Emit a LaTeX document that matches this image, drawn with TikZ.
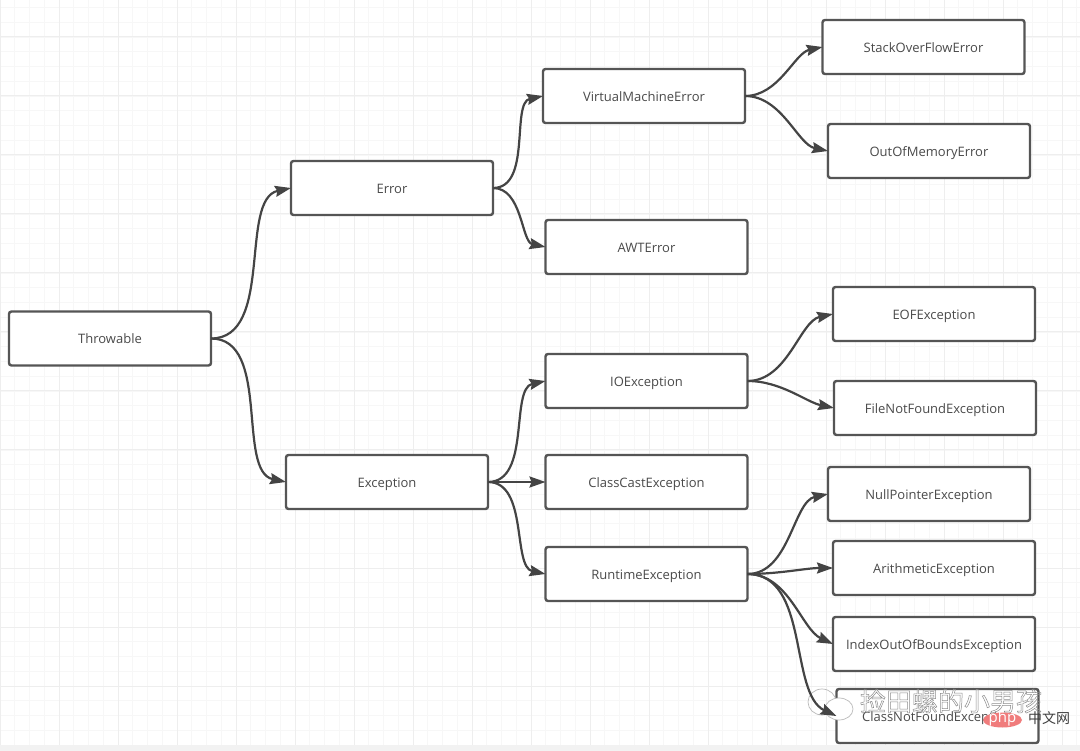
\documentclass[tikz,border=0pt]{standalone}
\usepackage{fontspec}
\setmainfont{Open Sans}
\newfontfamily\cjkfont{Noto Sans CJK SC}
\usetikzlibrary{arrows.meta}
\definecolor{edgec}{HTML}{444444}
\definecolor{boxc}{HTML}{555555}
\definecolor{textc}{HTML}{4A4A4A}
\definecolor{minorc}{HTML}{F7F7F7}
\definecolor{majorc}{HTML}{EEEEEE}
\definecolor{bandc}{HTML}{F2F2F2}
\definecolor{phpc}{HTML}{F07C7C}
\tikzset{
  boxnode/.style={draw=boxc,fill=white,line width=2.4pt,rounded corners=2.5pt,minimum width=202pt,minimum height=54pt,inner sep=0pt,outer sep=0pt,text=textc,font=\fontsize{13}{15}\selectfont,text depth=0pt,text height=11pt},
  conn/.style={draw=edgec,line width=2.2pt,-{Stealth[length=16pt,width=11pt,inset=2pt]},out=0,in=180,out looseness=0.95,in looseness=0.8},
  goup/.style={conn,in=192},
  godown/.style={conn,in=168},
  steep/.style={conn,in=155},
  wmark/.style={inner sep=0pt,text=white,font=\fontsize{26}{28}\cjkfont},
  bubble/.style={draw=gray!55,line width=0.7pt}
}
\begin{document}
\begin{tikzpicture}[x=1pt,y=-1pt]
\useasboundingbox (0,0) rectangle (1080,751);
\fill[white] (0,0) rectangle (1080,751);
\foreach \k in {0,...,73} \draw[minorc,line width=0.9pt] ({14.75*\k},0) -- ({14.75*\k},745);
\foreach \k in {0,...,51} \draw[minorc,line width=0.9pt] (0,{7.5+14.75*\k}) -- (1080,{7.5+14.75*\k});
\foreach \k in {0,...,18} \draw[majorc,line width=1pt] ({59*\k},0) -- ({59*\k},745);
\foreach \k in {0,...,12} \draw[majorc,line width=1pt] (0,{37+59*\k}) -- (1080,{37+59*\k});
\fill[bandc] (0,745) rectangle (1080,751);

\node[boxnode] (throwable) at (110,338.5) {Throwable};
\node[boxnode] (error) at (392,188) {Error};
\node[boxnode] (exception) at (387,482) {Exception};
\node[boxnode] (vme) at (644,96) {VirtualMachineError};
\node[boxnode] (awt) at (646.5,247) {AWTError};
\node[boxnode] (io) at (646.5,381) {IOException};
\node[boxnode] (cce) at (646.5,482) {ClassCastException};
\node[boxnode] (rte) at (646.5,574) {RuntimeException};
\node[boxnode] (sof) at (923.5,47) {StackOverFlowError};
\node[boxnode] (oom) at (929,151) {OutOfMemoryError};
\node[boxnode] (eof) at (934,314) {EOFException};
\node[boxnode] (fnf) at (935,408) {FileNotFoundException};
\node[boxnode] (npe) at (929,494) {NullPointerException};
\node[boxnode] (arith) at (934,568) {ArithmeticException};
\node[boxnode] (ioob) at (934,644) {IndexOutOfBoundsException};
\node[boxnode] (cnf) at (937.5,716) {ClassNotFoundException};

\draw[bubble] (822,702) ellipse (14pt and 13pt);
\draw[bubble,fill=white] (839,709) ellipse (14pt and 11pt);

\draw[goup] (throwable.east) to (error.west);
\draw[godown] (throwable.east) to (exception.west);
\draw[goup] (error.east) to (vme.west);
\draw[godown] (error.east) to (awt.west);
\draw[goup] (vme.east) to (sof.west);
\draw[godown] (vme.east) to (oom.west);
\draw[goup] (exception.east) to (io.west);
\draw[conn] (exception.east) to (cce.west);
\draw[godown] (exception.east) to (rte.west);
\draw[goup] (io.east) to (eof.west);
\draw[godown] (io.east) to (fnf.west);
\draw[goup] (rte.east) to (npe.west);
\draw[conn] (rte.east) to (arith.west);
\draw[steep] (rte.east) to (ioob.west);
\draw[steep] (rte.east) to (cnf.west);

\node[wmark] (wm) at (951,701) {\special{pdf:code 1 Tr 0.5 w 0.55 G}捡田螺的小男孩\special{pdf:code 0 Tr}};
\fill[phpc] (1002.5,720) ellipse (19.5pt and 7.5pt);
\node[inner sep=0pt,text=white,font=\fontsize{15}{17}\selectfont] (php) at (1002.5,719) {php};
\node[inner sep=0pt,text=black!75,font=\fontsize{14}{16}\cjkfont] (cn) at (1049,718) {中文网};
\end{tikzpicture}
\end{document}
